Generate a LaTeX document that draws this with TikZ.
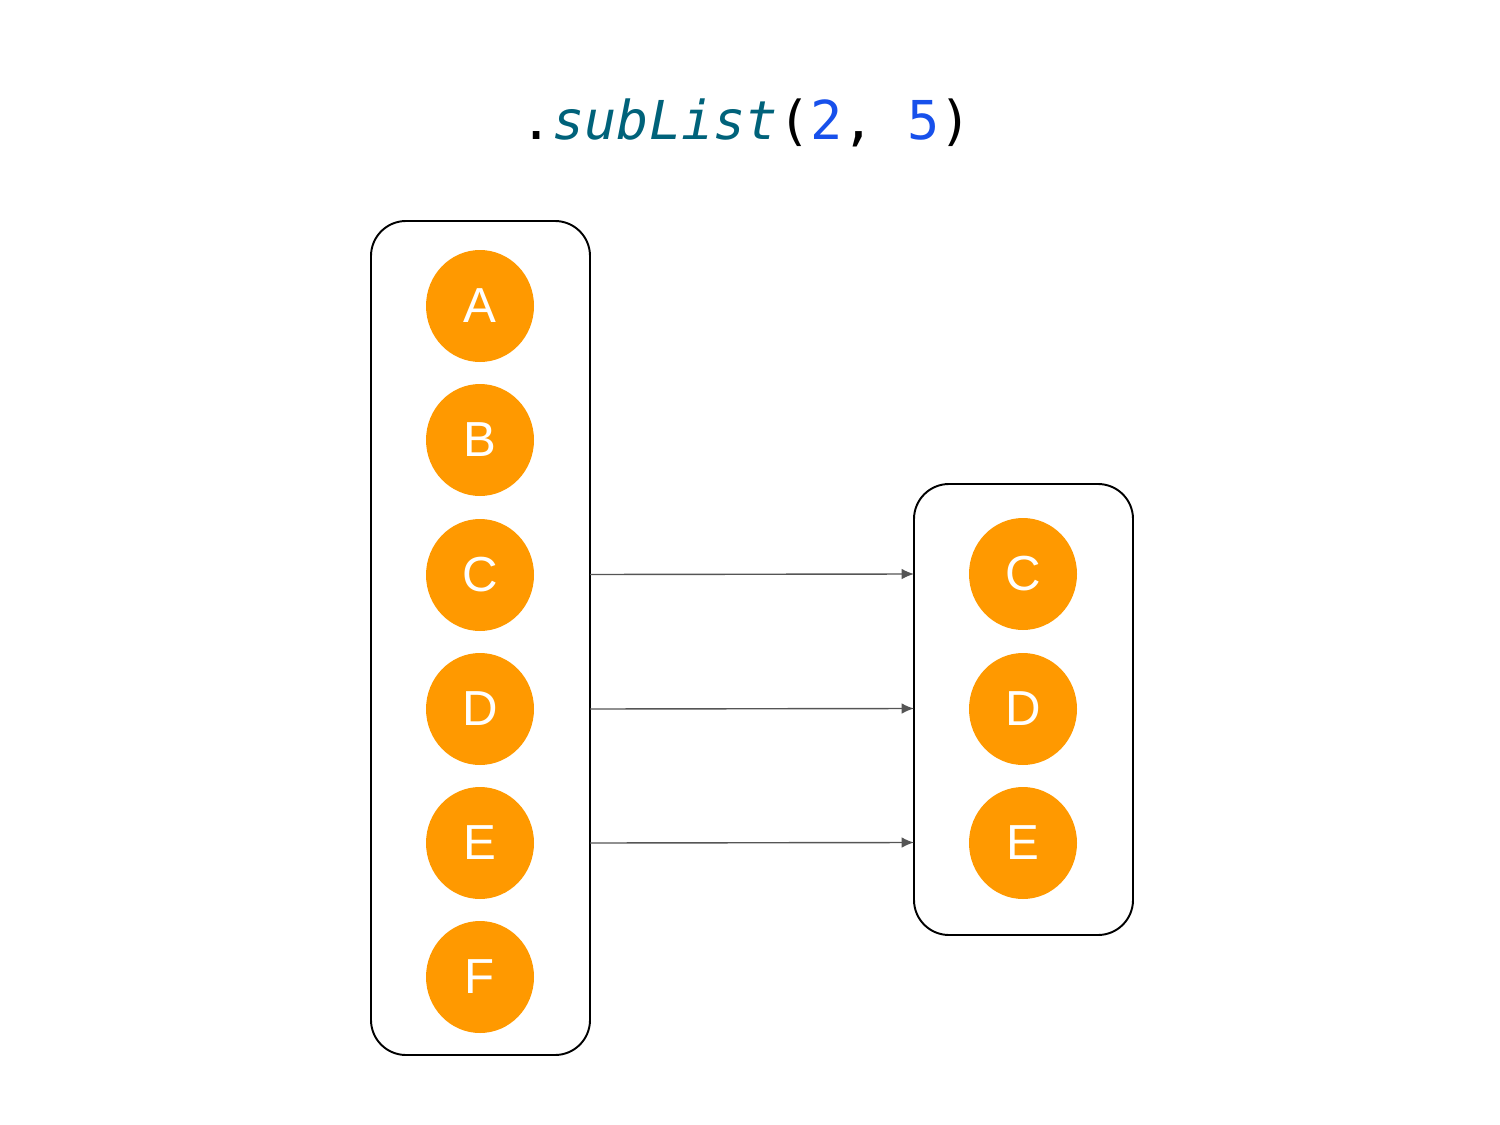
\documentclass[tikz,border=0pt]{standalone}
\usepackage{fontspec}
\setmainfont{Liberation Sans}
\newfontfamily\codefont{DejaVu Sans Mono}
\usetikzlibrary{arrows.meta,shapes.geometric}
\definecolor{orng}{HTML}{FF9900}
\definecolor{teal2}{HTML}{00627A}
\definecolor{numblue}{HTML}{1750EB}
\definecolor{arrowgray}{HTML}{555555}
\begin{document}
\begin{tikzpicture}[x=0.02cm,y=-0.02cm,
  item/.style={ellipse,fill=orng,minimum width=108*0.02cm,minimum height=112*0.02cm,inner sep=0pt,text=white,font=\fontsize{28}{30}\selectfont},
  listbox/.style={draw=black,line width=1.1pt,rounded corners=0.7cm},
  conn/.style={draw=arrowgray,line width=0.8pt,-{Latex[length=7pt,width=6pt]}}]
\useasboundingbox (0,0) rectangle (1500,1125);
\node[font=\codefont\fontsize{30.5}{33}\selectfont,anchor=base] (title) at (746,140) {.\textcolor{teal2}{\itshape subList}(\textcolor{numblue}{2}, \textcolor{numblue}{5})};
\draw[listbox] (371,221) rectangle (590,1055);
\draw[listbox] (914,484) rectangle (1133,935);
\coordinate (lC) at (590,574.5);
\coordinate (lD) at (590,709);
\coordinate (lE) at (590,843);
\coordinate (rC) at (914,574);
\coordinate (rD) at (914,708.5);
\coordinate (rE) at (914,842.5);
\node[item] (A) at (480,306) {A};
\node[item] (B) at (480,440) {B};
\node[item] (C) at (480,575) {C};
\node[item] (D) at (480,709) {D};
\node[item] (E) at (480,843) {E};
\node[item] (F) at (480,977) {F};
\node[item] (C2) at (1023,574) {C};
\node[item] (D2) at (1023,709) {D};
\node[item] (E2) at (1023,843) {E};
\draw[conn] (lC) -- (rC);
\draw[conn] (lD) -- (rD);
\draw[conn] (lE) -- (rE);
\end{tikzpicture}
\end{document}
